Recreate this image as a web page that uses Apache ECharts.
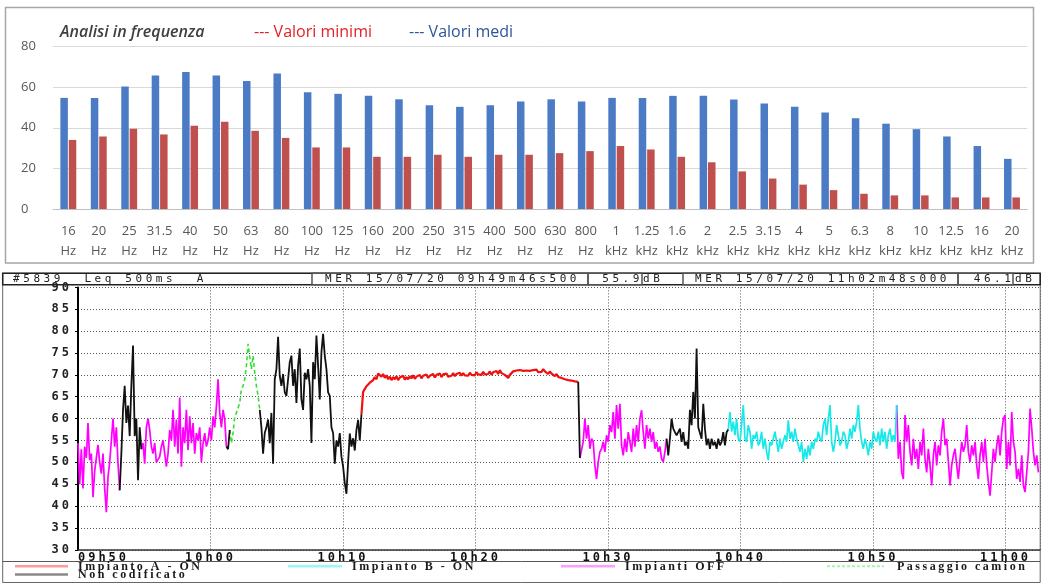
<!DOCTYPE html>
<html><head><meta charset="utf-8">
<script src="https://cdn.jsdelivr.net/npm/echarts@6/dist/echarts.min.js"></script>
<style>html,body{margin:0;padding:0;background:#fff}#c{width:1042px;height:583px}</style>
</head><body><div id="c"></div>
<script>
// letter spacing for the "instrument" fonts (spaced-out look of the original print)
(function () {
  var C = window.CanvasRenderingContext2D;
  if (!C || !('letterSpacing' in C.prototype)) return;
  var d = Object.getOwnPropertyDescriptor(C.prototype, 'font');
  if (!d || !d.set) return;
  Object.defineProperty(C.prototype, 'font', {
    configurable: true, enumerable: d.enumerable,
    get: function () { return d.get.call(this); },
    set: function (v) {
      d.set.call(this, v);
      var f = String(v), s = '0px';
      var m = f.match(/(\d+(?:\.\d+)?)px/);
      var size = m ? parseFloat(m[1]) : 12;
      if (f.indexOf('DejaVu Sans Mono') >= 0) s = Math.max(0, 10.2 - 0.602 * size).toFixed(2) + 'px';
      else if (f.indexOf('Liberation Serif') >= 0) s = '2.5px';
      this.letterSpacing = s;
    }
  });
})();

// ---------- top chart data ----------
const freqLabels = ['16\nHz','20\nHz','25\nHz','31.5\nHz','40\nHz','50\nHz','63\nHz','80\nHz','100\nHz','125\nHz',
  '160\nHz','200\nHz','250\nHz','315\nHz','400\nHz','500\nHz','630\nHz','800\nHz',
  '1\nkHz','1.25\nkHz','1.6\nkHz','2\nkHz','2.5\nkHz','3.15\nkHz','4\nkHz','5\nkHz','6.3\nkHz','8\nkHz','10\nkHz','12.5\nkHz','16\nkHz','20\nkHz'];
const valoriMedi = [54.7,54.7,60.3,65.7,67.5,65.7,63.0,66.7,57.5,56.7,
  55.7,54.0,51.1,50.3,51.1,52.9,54.0,52.9,
  54.7,54.7,55.7,55.7,53.9,52.0,50.3,47.5,44.7,42.0,39.3,35.7,31.0,24.7];
const valoriMinimi = [34.0,35.7,39.5,36.7,41.0,43.0,38.5,35.0,30.3,30.3,
  25.7,25.7,26.7,25.7,26.7,26.7,27.5,28.5,
  31.0,29.3,25.7,23.0,18.5,15.0,12.0,9.3,7.5,6.7,6.7,5.7,5.7,5.7];

// ---------- bottom chart data (Leq 500ms A, dB) ----------
const startMinute = 590;          // 09h50
const sampleSeconds = 7.55;       // spacing of the read-off samples
const off1 = [54.4,45,53,44,53.6,51,59,50.5,52,42,48,51,54,50,47.4,52,44,38.6,46.7,50,55,60,53.6,58,49.7,43.6];
const nc1 = [52,62,67.5,59,63,56,67.5,76.7,56,60,45.9,58,53];
const off2 = [54.4,49.7,58,60,57.4,53.6,52,54.4,50,49.7,51.3,53.6,55,55,49,52,57.4,55,62,53.6,59.8,52,64.8,49,58,54.4,62,52.8,60.5,54.4,59,52,56.7,55,58,50.1,54.4,56.7,53.6,55,58,55,60.5,58,62.8,69,61.3,58,62,59.8,53.6];
const nc2 = [53,57.4];
const camion1 = [54.4,56.7,60.5,61.3,61.3,63.6,66.7,67.5,69,72.1,77.1,74,71.3,74.4,70.5,67.5,65.2,62];
const nc3 = [58,52,56.7,58,59.8,54.4,61.3,49.7,69,71.3,78.7,69.8,67.5,70.2,66,65.2,69,72.9,74.4,67.5,71.3,63.6,72.1,76,64.4,62,70.5,69,71.3,67.5,54.4,72.9,69,79,72.1,64.4,75.2,79.4,74.4,71.3,66,65.2,58,56.7,49.7,55,53.6,56.7,51.3,49,45.3,42.8,50,56.6,53.6,55.5,52.7,57.4,59.7,55,61];
const impA1 = [66.1,66.8,67.4,67.0,68.2,67.8,68.8,69.5,69.0,70.3,
  70.6,69.6,70.2,69.3,69.9,69.0,69.6,68.8,69.5,69.0,
  69.7,68.8,69.4,69.1,69.8,68.9,69.5,69.0,69.7,69.2,
  69.9,69.1,69.6,69.3,70.0,69.2,69.8,69.4,70.1,69.3,
  69.8,69.5,70.2,69.4,70.0,69.6,70.3,69.5,70.1,69.7,
  70.3,69.6,70.0,69.8,70.4,69.7,70.2,69.9,70.5,69.8,
  70.4,69.9,70.2,69.8,70.5,70.0,70.3,69.9,70.6,70.1,
  70.4,70.0,70.7,70.1,70.5,70.2,70.8,70.0,70.6,70.3,
  70.9,70.2,71.1,70.4,70.8,70.0,69.6,69.3,70.0,70.4,
  70.8,70.5,71.0,70.6,71.1,70.7,70.9,70.5,71.0,70.6,
  70.9,70.5,71.1,70.7,71.2,70.6,71.0,70.7,71.3,70.8,
  70.6,70.2,70.8,70.3,70.0,69.7,70.2,69.5,69.9,69.3,
  69.6,69.0,69.4,68.8,69.2,68.7,69.0,68.5,68.8,68.4];
const nc4 = [51];
const off3 = [50.8,54.7,60.0,55.4,58.5,53.1,55.4,54.7,49.3,46.2,
  50.1,52.4,53.1,54.7,52.4,56.2,54.7,58.5,56.9,61.5,
  55.4,63.1,57.7,63.4,53.9,51.6,55.4,52.4,56.9,54.7,
  52.4,57.7,53.6,58.5,54.7,60.0,61.9,56.9,53.1,58.5,
  55.4,57.7,54.7,56.9,53.1,54.7,52.4,53.6,50.8,50.1,
  52.4,55.4];
const nc5 = [51.6,55.4,60.0,57.7,56.9,56.2,56.9,57.7,54.7,56.9,53.9,54.7,53.1,
  62,58.5,66.1,60,76,58,57.7,55.4,63.4,57.7,53.9,55.4,53.1,55.4,53.9,54.7,53.1,55.4,53.9,54.7,56.9,53.9,56.9,57.5];
const impB1 = [61.5,57.0,59.3,56.2,60.0,55.4,54.7,58.5,63.1,55.4,
  54.7,58.5,57.0,53.1,56.2,55.4,57.0,53.9,54.7,57.0,
  53.1,55.4,52.4,50.5,54.7,53.9,55.4,57.0,54.7,52.4,
  55.4,53.1,54.7,56.2,54.7,59.6,55.4,57.0,54.7,57.7,
  55.4,53.9,52.4,54.7,50.1,53.1,50.8,53.9,51.6,54.7,
  53.1,55.4,54.7,57.0,55.4,54.7,58.5,60.0,56.2,60.0,
  63.1,54.7,52.4,54.7,58.5,56.2,53.9,54.7,57.0,56.2,
  53.1,54.7,57.7,55.4,58.5,57.0,59.3,63.1,57.7,54.7,
  53.1,55.4,53.9,51.6,54.7,53.1,57.0,55.4,54.7,57.0,
  53.9,57.7,54.7,57.0,53.1,56.2,57.7,54.7,56.2,54.7,
  63.1];
const off4 = [50.8,54.7,47.7,46.2,60.8,54.7,58.5,52.4,49.3,55.4,
  50.8,53.1,48.5,54.7,51.6,57.7,50.8,47.7,53.1,49.3,
  44.7,51.6,54.7,49.3,53.9,51.6,57.0,60.0,53.9,55.4,
  50.1,44.7,49.3,51.6,53.1,49.3,46.2,50.8,54.7,52.4,
  53.9,58.5,52.4,50.1,53.9,51.6,54.7,49.3,46.2,51.6,
  54.7,50.1,55.4,49.3,45.5,42.4,47.7,53.1,50.1,53.9,
  56.2,51.6,57.0,60.0,60.8,48.5,54.7,49.3,61.5,54.7,
  52.4,46.2,48.5,45.5,51.6,44.7,43.2,47.7,52.4,62.3,
  57.7,52.4,49.3,51.6,47.7];

const sequence = [['off',off1],['nc',nc1],['off',off2],['nc',nc2],['cam',camion1],['nc',nc3],
  ['a',impA1],['nc',nc4],['off',off3],['nc',nc5],['b',impB1],['off',off4]];

const lines = {a:[], b:[], off:[], cam:[], nc:[]};
(function build(){
  let i = 0, prev = null;
  const step = sampleSeconds / 60;
  sequence.forEach(([key, vals]) => {
    const arr = lines[key];
    if (arr.length) arr.push([arr[arr.length-1][0], null]);
    if (prev) arr.push(prev.slice());
    vals.forEach(v => { const p = [startMinute + i*step, v]; arr.push(p); prev = p; i++; });
  });
})();

const fmtTime = v => { const m = Math.round(v); const h = Math.floor(m/60), mm = m%60; return String(h).padStart(2,'0') + 'h' + String(mm).padStart(2,'0'); };

const MONO = 'DejaVu Sans Mono';
const SERIF = 'Liberation Serif';
const chart = echarts.init(document.getElementById('c'), null, {renderer:'canvas'});

function lineSeries(name, key, color, width, dashed) {
  return {name, type:'line', xAxisIndex:1, yAxisIndex:1, data: lines[key], showSymbol:false, symbol:'none',
    connectNulls:false, animation:false, silent:true,
    lineStyle:{color, width, type: dashed ? [4,3] : 'solid'}};
}

const T = (x, y, text, o) => Object.assign({type:'text', x, y, silent:true,
  style: Object.assign({text, fill:'#222', fontFamily:MONO, fontSize:11, verticalAlign:'middle', align:'left'}, o || {})});
const L = (x1, y1, x2, y2, color, w, dash) => ({type:'line', silent:true,
  shape:{x1, y1, x2, y2}, style:{stroke:color, lineWidth:w, lineDash: dash || null}});
const R = (x, y, w, h, color, lw) => ({type:'rect', silent:true, shape:{x, y, width:w, height:h},
  style:{fill:'none', stroke:color, lineWidth:lw}});
const LEG = {fontFamily:SERIF, fontWeight:'bold', fontSize:12, fill:'#1a1a1a'};

chart.setOption({
  animation:false,
  backgroundColor:'#fff',
  grid:[
    {left:53.1, right:14.8, top:46.5, bottom:374},
    {left:78, right:2, top:287.4, bottom:33.2}
  ],
  xAxis:[
    {type:'category', gridIndex:0, data:freqLabels,
      axisTick:{show:false}, axisLine:{lineStyle:{color:'#bfbfbf', width:1}},
      axisLabel:{interval:0, color:'#595959', fontFamily:'Open Sans', fontSize:13, lineHeight:20.5, margin:12}},
    {type:'value', gridIndex:1, min:startMinute, max:662.6, interval:10,
      axisLine:{show:true, onZero:false, lineStyle:{color:'#333', width:1.5}},
      axisTick:{show:false},
      splitLine:{show:true, lineStyle:{color:'#555', width:1, type:[1,2]}},
      axisLabel:{formatter:fmtTime, fontFamily:MONO, fontWeight:'bold', fontSize:12, color:'#111', margin:1,
        showMaxLabel:false, alignMinLabel:'left'}}
  ],
  yAxis:[
    {type:'value', gridIndex:0, min:0, max:80, interval:20,
      axisLine:{show:false}, axisTick:{show:false},
      splitLine:{lineStyle:{color:'#d9d9d9', width:1}},
      axisLabel:{align:'left', margin:32, color:'#595959', fontFamily:'Open Sans', fontSize:13}},
    {type:'value', gridIndex:1, min:30, max:90, interval:5,
      axisLine:{show:true, onZero:false, lineStyle:{color:'#000', width:2}},
      axisTick:{show:true, length:3, lineStyle:{color:'#000', width:1}},
      splitLine:{show:true, lineStyle:{color:'#555', width:1, type:[1,2]}},
      axisLabel:{margin:6, color:'#222', fontFamily:MONO, fontWeight:'bold', fontSize:12}}
  ],
  series:[
    {name:'Valori medi', type:'bar', xAxisIndex:0, yAxisIndex:0, data:valoriMedi, barWidth:7.5, barGap:'12%',
      itemStyle:{color:'#4a7bc4'}, silent:true},
    {name:'Valori minimi', type:'bar', xAxisIndex:0, yAxisIndex:0, data:valoriMinimi, barWidth:7.5, barGap:'12%',
      itemStyle:{color:'#c0504d'}, silent:true},
    lineSeries('Impianti OFF', 'off', '#ff00ff', 1.7),
    lineSeries('Impianto B - ON', 'b', '#18e8e8', 1.7),
    lineSeries('Passaggio camion', 'cam', '#33dd33', 1.6, true),
    lineSeries('Impianto A - ON', 'a', '#f01010', 2.2),
    lineSeries('Non codificato', 'nc', '#111111', 1.8)
  ],
  graphic:[
    R(5.5, 7.5, 1028, 255.5, '#a6a6a6', 1.5),
    T(60, 32, 'Analisi in frequenza', {fontFamily:'Open Sans', fontSize:16, fontStyle:'italic', fontWeight:600, fill:'#404040'}),
    T(254, 32, '--- Valori minimi', {fontFamily:'Open Sans', fontSize:16, fill:'#e31e24'}),
    T(409, 32, '--- Valori medi', {fontFamily:'Open Sans', fontSize:16, fill:'#2e5597'}),
    // bottom frame
    R(2.7, 273.3, 1037.5, 309.2, '#666', 1),
    R(2.7, 273.3, 1037.5, 11.4, '#222', 1.5),
    R(312, 273.3, 276, 11.4, '#555', 1.5),
    R(588, 273.3, 54, 11.4, '#555', 1.5),
    R(683, 273.3, 275, 11.4, '#555', 1.5),
    R(958, 273.3, 55, 11.4, '#555', 1.5),
    T(13, 279.3, '#5839  Leq 500ms  A'),
    T(643, 279.3, '55.9', {align:'right'}),
    T(325, 279.3, 'MER 15/07/20 09h49m46s500'),
    T(643, 279.3, 'dB'),
    T(695, 279.3, 'MER 15/07/20 11h02m48s000'),
    T(1014.5, 279.3, '46.1', {align:'right'}),
    T(1015, 279.3, 'dB'),
    // legend
    L(2.7, 561.5, 1040.2, 561.5, '#555', 1),
    L(15, 566.3, 68, 566.3, '#ff9a9a', 2.5),
    T(78, 566.5, 'Impianto A - ON', LEG),
    L(288, 566.3, 342, 566.3, '#9cf6f6', 2.5),
    T(352, 566.5, 'Impianto B - ON', LEG),
    L(561, 566.3, 615, 566.3, '#ff9cff', 2.5),
    T(625, 566.5, 'Impianti OFF', LEG),
    L(827, 566.3, 884, 566.3, '#a6f5a6', 2, [3,2]),
    T(897, 566.5, 'Passaggio camion', LEG),
    L(15, 574.5, 68, 574.5, '#8a8a8a', 2.5),
    T(78, 575, 'Non codificato', LEG)
  ]
});
</script></body></html>
